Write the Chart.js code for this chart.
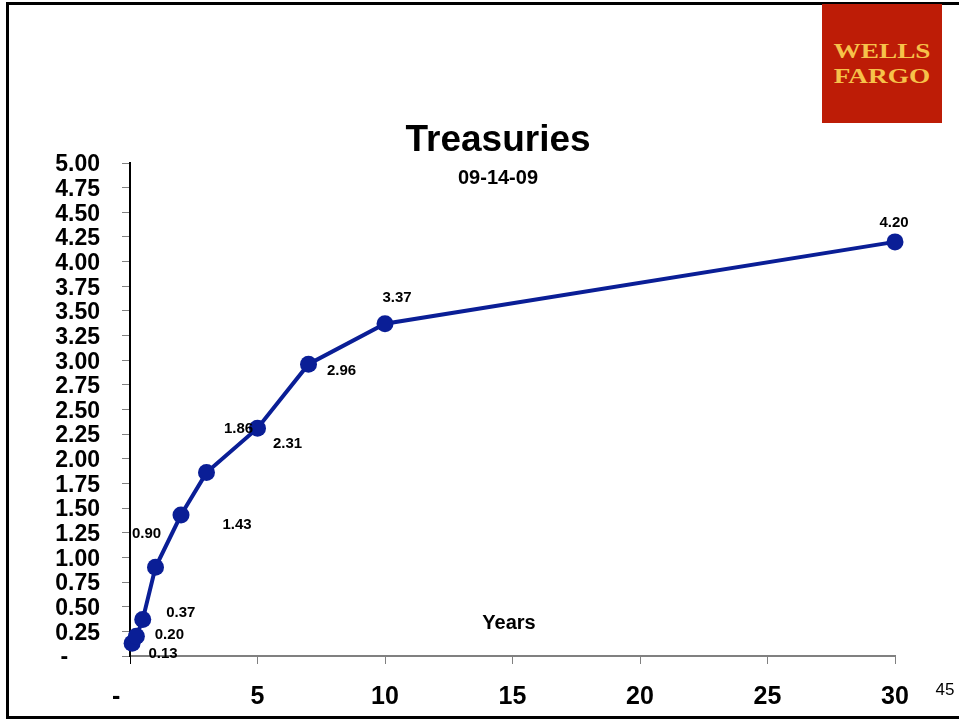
<!DOCTYPE html>
<html>
<head>
<meta charset="utf-8">
<script src="https://cdn.jsdelivr.net/npm/chart.js@4.4.1/dist/chart.umd.min.js"></script>
<style>
  html, body { margin: 0; padding: 0; background: #fff; }
  #wrap { position: relative; width: 959px; height: 723px; overflow: hidden; }
  #frame { position: absolute; left: 6px; top: 2px; width: 953px; height: 717px;
           border-left: 3px solid #000; border-top: 3px solid #000; border-bottom: 3px solid #000; box-sizing: border-box; }
  #logo { position: absolute; left: 822px; top: 4px; width: 120px; height: 119px; background: #bd1c06; }
  #logo div { position: absolute; left: 0; width: 120px; text-align: center; color: #f6c24a;
              font: bold 21px "Liberation Serif", "DejaVu Serif", serif; transform: scaleX(1.3); line-height: 21px; }
  canvas { position: absolute; left: 0; top: 0; }
</style>
</head>
<body>
<div id="wrap">
  <div id="frame"></div>
  <div id="logo"><div style="top:37px">WELLS</div><div style="top:62px">FARGO</div></div>
  <canvas id="chart" width="959" height="723"></canvas>
</div>
<script>
// maturity in years, yield in %
const maturities = [0.083, 0.25, 0.5, 1, 2, 3, 5, 7, 10, 30];
const yields = [0.13, 0.20, 0.37, 0.90, 1.43, 1.86, 2.31, 2.96, 3.37, 4.20];
const yTickLabels = ['-     ', '0.25', '0.50', '0.75', '1.00', '1.25', '1.50', '1.75', '2.00', '2.25',
  '2.50', '2.75', '3.00', '3.25', '3.50', '3.75', '4.00', '4.25', '4.50', '4.75', '5.00'];
const xTickLabels = ['-    ', '5', '10', '15', '20', '25', '30'];
const pointLabels = ['0.13', '0.20', '0.37', '0.90', '1.43', '1.86', '2.31', '2.96', '3.37', '4.20'];

// where each value label sits relative to its point (as on the slide)
const labelOffsets = [[31, 11], [33, -1], [38, -7], [-9, -33], [56, 10], [32, -44], [30, 16], [33, 7], [12, -26], [-1, -19]];

const FONT = '"Liberation Sans", Arial, sans-serif';
const BLUE = '#0a1e96';

const slideText = {
  id: 'slideText',
  afterDatasetsDraw(chart) {
    const ctx = chart.ctx;
    const meta = chart.getDatasetMeta(0);
    ctx.save();
    ctx.fillStyle = '#000';
    ctx.textAlign = 'center';
    ctx.textBaseline = 'middle';
    ctx.font = 'bold 15px ' + FONT;
    meta.data.forEach((pt, i) => {
      const o = labelOffsets[i];
      ctx.fillText(pointLabels[i], pt.x + o[0], pt.y + o[1]);
    });
    ctx.font = 'bold 37px ' + FONT;
    ctx.fillText('Treasuries', 498, 141);
    ctx.font = 'bold 20px ' + FONT;
    ctx.fillText('09-14-09', 498, 178);
    ctx.font = 'bold 20px ' + FONT;
    ctx.fillText('Years', 509, 623);
    ctx.font = '17px ' + FONT;
    ctx.fillText('45', 945, 690);
    ctx.restore();
  }
};

new Chart(document.getElementById('chart'), {
  type: 'scatter',
  data: {
    datasets: [{
      data: maturities.map((m, i) => ({ x: m, y: yields[i] })),
      showLine: true,
      borderColor: BLUE,
      backgroundColor: BLUE,
      borderWidth: 4,
      pointRadius: 8.5,
      pointHoverRadius: 8.5,
      pointBorderWidth: 0,
      clip: false
    }]
  },
  options: {
    responsive: false,
    animation: false,
    layout: { padding: { top: 163, right: 64, bottom: 0, left: 0 } },
    plugins: { legend: { display: false }, tooltip: { enabled: false }, title: { display: false } },
    scales: {
      x: {
        type: 'linear', min: 0, max: 30,
        afterFit(s) { s.height = 67; },
        grid: { drawOnChartArea: false, drawTicks: true, tickLength: 8,
                tickColor: c => c.index === 0 ? '#000' : '#808080' },
        border: { color: '#808080', width: 2 },
        ticks: { stepSize: 5, padding: 18, color: '#000', maxRotation: 0,
                 font: { family: FONT, size: 25, weight: 'bold' },
                 callback: (v, i) => xTickLabels[i] }
      },
      y: {
        min: 0, max: 5,
        afterFit(s) { s.width = 130; },
        grid: { drawOnChartArea: false, drawTicks: true, tickLength: 8, tickColor: '#808080' },
        border: { color: '#000', width: 2 },
        ticks: { stepSize: 0.25, padding: 22, labelOffset: 2, color: '#000', autoSkip: false,
                 font: { family: FONT, size: 23, weight: 'bold' },
                 callback: (v, i) => yTickLabels[i] }
      }
    }
  },
  plugins: [slideText]
});
</script>
</body>
</html>
